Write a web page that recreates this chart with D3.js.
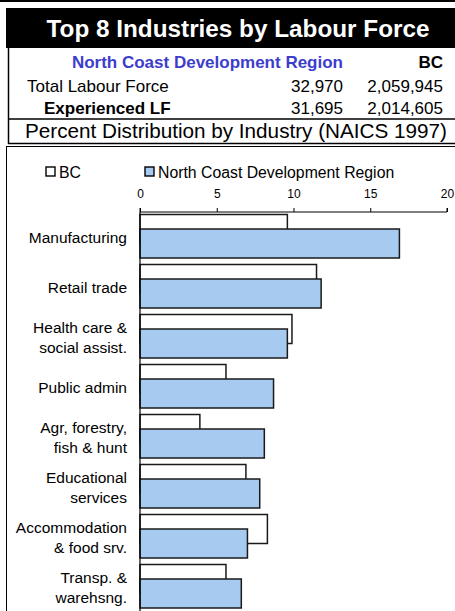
<!DOCTYPE html>
<html><head><meta charset="utf-8">
<script src="https://cdn.jsdelivr.net/npm/d3@7"></script>
<style>body{margin:0;background:#fff;}svg{display:block;font-family:"Liberation Sans",Arial,sans-serif;}</style>
</head><body>
<script>
const categories = ["Manufacturing","Retail trade","Health care &\nsocial assist.","Public admin","Agr, forestry,\nfish & hunt","Educational\nservices","Accommodation\n& food srv.","Transp. &\nwarehsng."];
const bcValues = [9.6, 11.5, 9.9, 5.6, 3.9, 6.9, 8.3, 5.6];
const ncValues = [16.9, 11.8, 9.6, 8.7, 8.1, 7.8, 7.0, 6.6];
const tickValues = [0, 5, 10, 15, 20];
const seriesNames = ["BC", "North Coast Development Region"];
const title = "Top 8 Industries by Labour Force";
const tableHeader = ["North Coast Development Region", "BC"];
const tableRows = [["Total Labour Force", "32,970", "2,059,945"], ["Experienced LF", "31,695", "2,014,605"]];
const subtitle = "Percent Distribution by Industry (NAICS 1997)";

const W = 455, H = 611;
const svg = d3.select("body").append("svg").attr("width", W).attr("height", H);

// top rule and header
svg.append("rect").attr("x",0).attr("y",0).attr("width",W).attr("height",2).attr("fill","#000");
svg.append("rect").attr("x",6).attr("y",8).attr("width",W-6).attr("height",40).attr("fill","#000");
svg.append("text").attr("x",238).attr("y",37).attr("text-anchor","middle").attr("fill","#fff")
  .attr("font-weight","bold").attr("font-size",24.3).text(title);

// table
svg.append("line").attr("x1",8.5).attr("x2",8.5).attr("y1",48).attr("y2",144).attr("stroke","#000").attr("stroke-width",1.5);
svg.append("text").attr("x",343).attr("y",68).attr("text-anchor","end").attr("fill","#3d3dcc")
  .attr("font-weight","bold").attr("font-size",17).text(tableHeader[0]);
svg.append("text").attr("x",443).attr("y",68).attr("text-anchor","end").attr("fill","#000")
  .attr("font-weight","bold").attr("font-size",17).text(tableHeader[1]);
tableRows.forEach((r,i)=>{
  const yy = 92 + i*22;
  svg.append("text").attr("x", i===0?27:44).attr("y",yy).attr("font-size",17)
    .attr("font-weight", i===0?"normal":"bold").text(r[0]);
  svg.append("text").attr("x",343).attr("y",yy).attr("text-anchor","end").attr("font-size",17).text(r[1]);
  svg.append("text").attr("x",443).attr("y",yy).attr("text-anchor","end").attr("font-size",17).text(r[2]);
});
svg.append("line").attr("x1",8).attr("x2",W).attr("y1",119).attr("y2",119).attr("stroke","#000").attr("stroke-width",1.5);
svg.append("text").attr("x",236).attr("y",138).attr("text-anchor","middle").attr("font-size",20.7).text(subtitle);
svg.append("line").attr("x1",8).attr("x2",W).attr("y1",143.5).attr("y2",143.5).attr("stroke","#000").attr("stroke-width",1.5);

// chart frame
svg.append("line").attr("x1",6).attr("x2",W).attr("y1",146.5).attr("y2",146.5).attr("stroke","#000").attr("stroke-width",1);
svg.append("line").attr("x1",6.5).attr("x2",6.5).attr("y1",146).attr("y2",H).attr("stroke","#000").attr("stroke-width",1);

// legend
const colors = ["#ffffff", "#a6caf0"];
const legX = [46, 145];
seriesNames.forEach((s,i)=>{
  svg.append("rect").attr("x",legX[i]).attr("y",167).attr("width",9).attr("height",9)
    .attr("fill",colors[i]).attr("stroke","#000").attr("stroke-width",1.4);
  svg.append("text").attr("x",legX[i]+13).attr("y",177.5).attr("font-size",15.8).text(s);
});

// scales
const x = d3.scaleLinear().domain([0,20]).range([140,447]);
const y = d3.scaleBand().domain(categories).range([212, 612]).paddingInner(0).paddingOuter(0);
const barH = 29, off = 14.5;

// axis
const axis = d3.axisTop(x).tickValues(tickValues).tickSize(4).tickPadding(10).tickFormat(d3.format("d"));
const ag = svg.append("g").attr("transform","translate(0,212)").call(axis);
ag.select(".domain").attr("stroke","#000").attr("d", `M${x(0)},-4V0H${x(20)}V-4`);
ag.selectAll(".tick line").attr("stroke","#000");
ag.selectAll(".tick text").attr("font-size",12).attr("font-family","Liberation Sans, Arial, sans-serif").attr("fill","#000");

// bars
const g = svg.append("g");
categories.forEach((c,i)=>{
  const y0 = y(c) + 2.5;
  g.append("rect").attr("x",x(0)).attr("y",y0).attr("width",x(bcValues[i])-x(0)).attr("height",barH)
    .attr("fill",colors[0]).attr("stroke","#1a1a1a").attr("stroke-width",1.5);
  g.append("rect").attr("x",x(0)).attr("y",y0+off).attr("width",x(ncValues[i])-x(0)).attr("height",barH)
    .attr("fill",colors[1]).attr("stroke","#1a1a1a").attr("stroke-width",1.5);
});

// vertical axis line
svg.append("line").attr("x1",x(0)).attr("x2",x(0)).attr("y1",212).attr("y2",H).attr("stroke","#000").attr("stroke-width",1.2);

// category labels
categories.forEach((c,i)=>{
  const lines = c.split("\n");
  const cy = y(c) + 2.5 + (barH+off)/2 + 1;
  const t = svg.append("text").attr("text-anchor","end").attr("font-size",15.5).attr("fill","#000");
  lines.forEach((l,j)=>{
    t.append("tspan").attr("x",127).attr("y", cy + (j - (lines.length-1)/2)*20.5 + 5.5).text(l);
  });
});
</script>
</body></html>
